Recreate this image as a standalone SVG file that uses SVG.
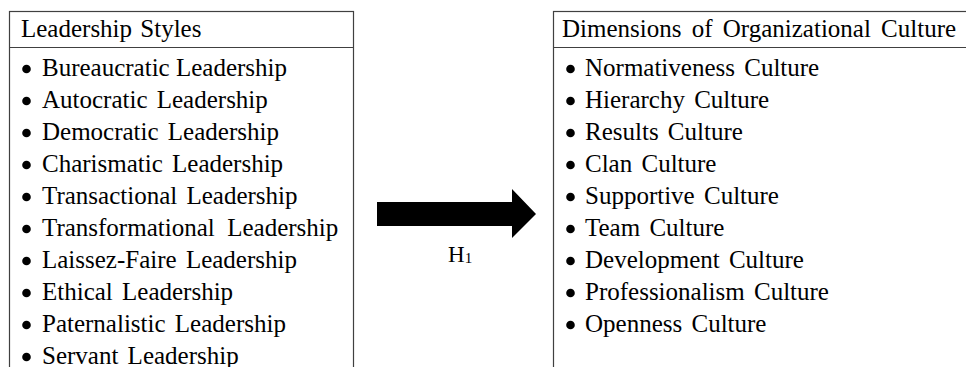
<svg xmlns="http://www.w3.org/2000/svg" width="966" height="367" viewBox="0 0 966 367">
<style>
.box{fill:#fff;stroke:#404040;stroke-width:1.2}
.div{stroke:#404040;stroke-width:1.2}
.bul{fill:#000}
text{font-family:"Liberation Serif","Times New Roman",serif;font-size:25px;fill:#000}
.hd{word-spacing:2px}
.rt{word-spacing:3px}
.sub{font-size:15px}
</style>
<rect width="966" height="367" fill="#fff"/>
<g id="leadership-styles">
<rect class="box" x="9.5" y="11.5" width="344" height="370"/>
<line class="div" x1="9.5" y1="47.5" x2="353.5" y2="47.5"/>
<text class="hd" x="21" y="37">Leadership Styles</text>
<g class="bul">
<circle cx="26.5" cy="69" r="4.3"/><circle cx="26.5" cy="101" r="4.3"/><circle cx="26.5" cy="133" r="4.3"/><circle cx="26.5" cy="165" r="4.3"/><circle cx="26.5" cy="197" r="4.3"/><circle cx="26.5" cy="229" r="4.3"/><circle cx="26.5" cy="261" r="4.3"/><circle cx="26.5" cy="293" r="4.3"/><circle cx="26.5" cy="325" r="4.3"/><circle cx="26.5" cy="357" r="4.3"/>
</g>
<g>
<text x="42" y="76">Bureaucratic Leadership</text>
<text x="42" y="108" class="rt">Autocratic Leadership</text>
<text x="42" y="140" class="rt">Democratic Leadership</text>
<text x="42" y="172" class="rt">Charismatic Leadership</text>
<text x="42" y="204" class="rt">Transactional Leadership</text>
<text x="42" y="236" xml:space="preserve">Transformational  Leadership</text>
<text x="42" y="268" class="rt">Laissez-Faire Leadership</text>
<text x="42" y="300" class="rt">Ethical Leadership</text>
<text x="42" y="332" class="rt">Paternalistic Leadership</text>
<text x="42" y="364" class="rt">Servant Leadership</text>
</g>
</g>
<g id="organizational-culture">
<rect class="box" x="553.5" y="11.5" width="430" height="370"/>
<line class="div" x1="553.5" y1="47.5" x2="966" y2="47.5"/>
<text x="562" y="37" style="word-spacing:4px">Dimensions of Organizational Culture</text>
<g class="bul">
<circle cx="570.5" cy="69" r="4.3"/><circle cx="570.5" cy="101" r="4.3"/><circle cx="570.5" cy="133" r="4.3"/><circle cx="570.5" cy="165" r="4.3"/><circle cx="570.5" cy="197" r="4.3"/><circle cx="570.5" cy="229" r="4.3"/><circle cx="570.5" cy="261" r="4.3"/><circle cx="570.5" cy="293" r="4.3"/><circle cx="570.5" cy="325" r="4.3"/>
</g>
<g class="rt">
<text x="585" y="76">Normativeness Culture</text>
<text x="585" y="108">Hierarchy Culture</text>
<text x="585" y="140">Results Culture</text>
<text x="585" y="172">Clan Culture</text>
<text x="585" y="204">Supportive Culture</text>
<text x="585" y="236">Team Culture</text>
<text x="585" y="268">Development Culture</text>
<text x="585" y="300">Professionalism Culture</text>
<text x="585" y="332">Openness Culture</text>
</g>
</g>
<g id="connectors">
<polygon points="377,202 512,202 512,189 536,214 512,238 512,226 377,226" fill="#000"/>
<text x="448" y="262" style="font-size:23px">H<tspan class="sub" dy="1">1</tspan></text>
</g>
</svg>
